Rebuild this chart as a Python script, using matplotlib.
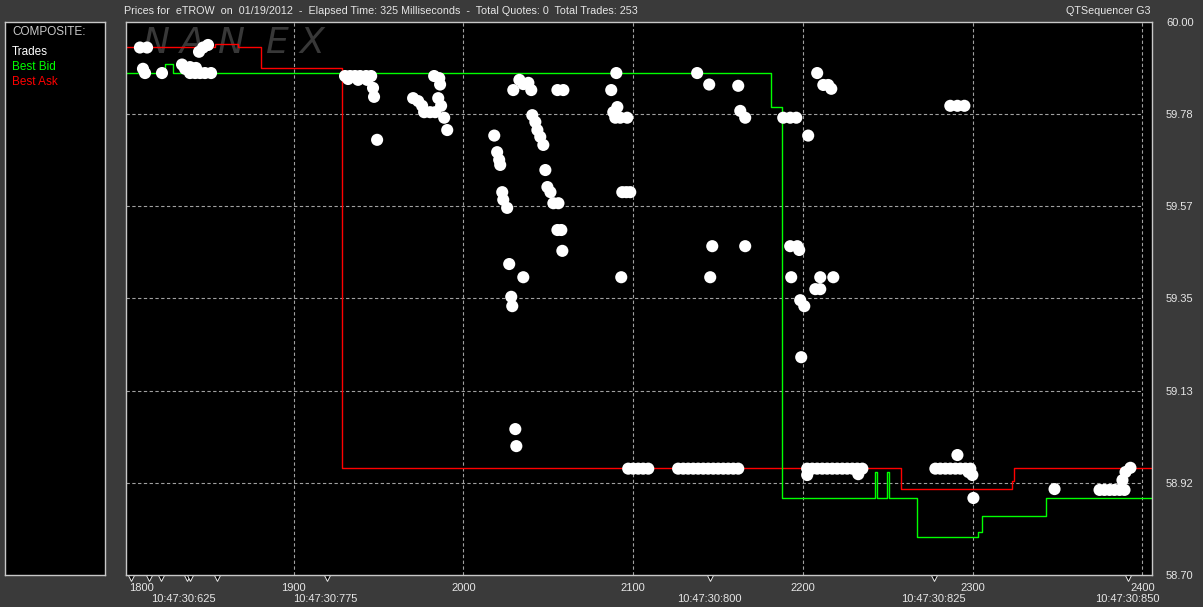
import matplotlib
matplotlib.use("Agg")
import matplotlib.pyplot as plt
import matplotlib.transforms as mtransforms

# ---- data ----
symbol = "eTROW"
trade_date = "01/19/2012"

# trades (sequence number, price)
trade_x = [
    1809.5, 1813.7, 1811.3, 1812.5, 1822.5, 1834.3, 1836.1, 1839.0, 1839.0, 1842.5,
    1842.0, 1844.9, 1847.8, 1851.4, 1844.3, 1846.7, 1849.6,
    1930.3, 1933.3, 1936.2, 1939.2, 1942.7, 1945.7, 1932.1, 1938.0, 1943.3, 1946.8,
    1947.4, 1949.2,
    1970.4, 1973.4, 1975.7, 1976.9, 1980.4, 1983.4, 1982.8, 1985.8, 1986.3, 1985.2,
    1986.9, 1988.7, 1990.5,
    2033.0, 2029.4, 2035.3, 2038.3, 2040.0, 2055.4, 2058.9, 2040.6, 2042.4, 2043.6,
    2045.3, 2047.1, 2018.2, 2019.9, 2021.1, 2021.7, 2048.3, 2022.9, 2023.5, 2025.8,
    2049.5, 2051.3, 2053.0, 2056.0, 2055.4, 2057.7, 2058.3, 2027.0, 2035.3, 2028.2,
    2028.8, 2030.6, 2031.2,
    2090.1, 2087.1, 2090.7, 2088.3, 2089.5, 2092.4, 2096.5, 2093.6, 2096.0, 2098.3,
    2093.0,
    2097.1, 2100.0, 2103.0, 2105.9, 2108.9,
    2126.5, 2129.5, 2132.4, 2135.4, 2138.3, 2141.3, 2144.2, 2147.2, 2150.1, 2153.1,
    2156.0, 2159.0, 2161.9,
    2137.7, 2144.8, 2146.6, 2145.4, 2161.9, 2163.1, 2166.0, 2166.0,
    2188.4, 2192.5, 2196.1, 2203.1, 2208.4, 2212.0, 2214.9, 2216.7, 2192.5, 2196.7,
    2197.8, 2193.1, 2210.2, 2217.9, 2207.3, 2210.2, 2198.4, 2200.8, 2199.0,
    2202.5, 2205.5, 2208.4, 2211.4, 2214.3, 2217.3, 2220.2, 2223.2, 2226.1, 2229.1,
    2232.0, 2235.0, 2202.5, 2232.6,
    2278.0, 2280.9, 2283.9, 2286.8, 2289.8, 2292.7, 2295.7, 2298.6, 2291.0, 2297.5,
    2299.8, 2300.4, 2286.8, 2291.0, 2295.1,
    2348.2, 2374.7, 2377.6, 2380.6, 2383.5, 2386.5, 2389.4, 2388.2, 2390.0, 2392.9,
]
trade_px = [
    59.940, 59.940, 59.890, 59.880, 59.880, 59.900, 59.890, 59.894, 59.880, 59.892,
    59.880, 59.880, 59.880, 59.880, 59.930, 59.940, 59.946,
    59.873, 59.873, 59.873, 59.873, 59.873, 59.873, 59.866, 59.864, 59.864, 59.845,
    59.824, 59.723,
    59.821, 59.814, 59.803, 59.788, 59.788, 59.788, 59.873, 59.868, 59.853, 59.821,
    59.803, 59.775, 59.746,
    59.864, 59.840, 59.854, 59.857, 59.840, 59.840, 59.840, 59.781, 59.765, 59.746,
    59.730, 59.711, 59.733, 59.694, 59.676, 59.664, 59.652, 59.600, 59.582, 59.563,
    59.612, 59.600, 59.574, 59.574, 59.511, 59.511, 59.462, 59.431, 59.400, 59.354,
    59.332, 59.043, 59.003,
    59.880, 59.840, 59.800, 59.788, 59.775, 59.775, 59.775, 59.600, 59.600, 59.600,
    59.400,
    58.950, 58.950, 58.950, 58.950, 58.950,
    58.950, 58.950, 58.950, 58.950, 58.950, 58.950, 58.950, 58.950, 58.950, 58.950,
    58.950, 58.950, 58.950,
    59.880, 59.853, 59.473, 59.400, 59.850, 59.791, 59.775, 59.473,
    59.775, 59.775, 59.775, 59.733, 59.880, 59.852, 59.852, 59.843, 59.473, 59.473,
    59.464, 59.400, 59.400, 59.400, 59.372, 59.372, 59.346, 59.332, 59.212,
    58.950, 58.950, 58.950, 58.950, 58.950, 58.950, 58.950, 58.950, 58.950, 58.950,
    58.950, 58.950, 58.935, 58.937,
    58.950, 58.950, 58.950, 58.950, 58.950, 58.950, 58.950, 58.950, 58.982, 58.942,
    58.935, 58.881, 59.803, 59.803, 59.803,
    58.902, 58.900, 58.900, 58.900, 58.900, 58.900, 58.900, 58.923, 58.942, 58.952,
]

# best ask / best bid (step changes)
ask_x = [1801.3, 1853.7, 1867.3, 1880.8, 1928.6, 2257.6, 2323.0, 2324.2, 2405.6]
ask_px = [59.941, 59.948, 59.941, 59.892, 58.951, 58.902, 58.921, 58.951, 58.951]

bid_x = [1801.3, 1824.3, 1829.0, 2181.0, 2187.4, 2242.7, 2243.6, 2249.5, 2250.7,
         2267.1, 2303.1, 2305.4, 2343.1, 2405.6]
bid_px = [59.880, 59.901, 59.880, 59.800, 58.881, 58.942, 58.881, 58.942, 58.881,
          58.789, 58.801, 58.839, 58.881, 58.881]

# time stamps marked under the axis
mark_x = [1804.2, 1814.8, 1821.9, 1837.2, 1839.0, 1854.9, 1919.7, 2145.4, 2277.0, 2391.5]
time_x = [1835.0, 1918.5, 2145.0, 2277.0, 2391.0]
time_labels = ["10:47:30:625", "10:47:30:775", "10:47:30:800", "10:47:30:825", "10:47:30:850"]

seq_ticks = [1900, 2000, 2100, 2200, 2300, 2400]
price_lo, price_hi = 58.70, 60.00

# ---- styling ----
W, H = 1203, 607
BG = "#3a3a3a"
TXT = "#e6e6e6"
GRID = "#a0a0a0"
FRAME = "#c8c8c8"
FS = 8
plt.rcParams['font.family'] = ['Liberation Sans', 'DejaVu Sans']


def fx(px):
    return px / W


def fy(py):
    return 1 - py / H


fig = plt.figure(figsize=(W / 100, H / 100), dpi=100, facecolor=BG)

# legend panel on the left
lax = fig.add_axes([fx(5), fy(575), fx(105) - fx(5), fy(22) - fy(575)])
lax.set_facecolor("black")
lax.set_xticks([])
lax.set_yticks([])
for s in lax.spines.values():
    s.set_color(FRAME)
    s.set_linewidth(1)
for txt, col, py in [("COMPOSITE:", "#c8c8c8", 32), ("Trades", "white", 52),
                     ("Best Bid", "#00ff00", 67), ("Best Ask", "#ff0000", 82)]:
    fig.text(fx(12), fy(py), txt, color=col, fontsize=8.5, ha="left", va="center")

# main price panel
ax = fig.add_axes([fx(126), fy(575), fx(1152) - fx(126), fy(22) - fy(575)])
ax.set_facecolor("black")
x_lo, x_hi = 1801.3, 2405.6
ax.set_xlim(x_lo, x_hi)
ax.set_ylim(price_lo, price_hi)
for s in ax.spines.values():
    s.set_color(FRAME)
    s.set_linewidth(1)

# watermark
for letter, px in zip("NANEX", [156, 192, 231, 276, 312]):
    ax.text(fx(px), fy(43), letter, transform=fig.transFigure, color="#383838",
            fontsize=26, style="italic", ha="center", va="center", zorder=0,
            family="DejaVu Sans")

# grid
step = (price_hi - price_lo) / 6
yt = [price_lo + i * step for i in range(7)]
ax.hlines(yt[1:-1], x_lo, 2400, colors=GRID, linestyles=(0, (3, 2.2)), lw=0.8, zorder=1)
ax.vlines(seq_ticks, price_lo, price_hi, colors=GRID, linestyles=(0, (3, 2.2)), lw=0.8, zorder=1)

ax.plot(ask_x, ask_px, drawstyle="steps-post", color="#ff0000", lw=1.0, zorder=2)
ax.plot(bid_x, bid_px, drawstyle="steps-post", color="#00ff00", lw=1.0, zorder=2)
ax.scatter(trade_x, trade_px, s=76, color="white", edgecolors="none", zorder=3)

# axes ticks
ax.yaxis.tick_right()
ax.set_yticks(yt)
ax.set_yticklabels(["%.2f" % v for v in yt])
ax.set_xticks(seq_ticks)
ax.set_xticklabels([str(v) for v in seq_ticks])
ax.tick_params(axis="both", length=0, colors=TXT, labelsize=FS)
ax.tick_params(axis="x", pad=6)
ax.tick_params(axis="y", pad=10)
ax.text(0.003, -0.023, "1800", transform=ax.transAxes, color=TXT, fontsize=FS,
        ha="left", va="center")

trans = mtransforms.blended_transform_factory(ax.transData, ax.transAxes)
ax.plot(mark_x, [-0.0055] * len(mark_x), transform=trans, ls="none", marker="v",
        ms=4.5, mfc="black", mec=TXT, mew=0.7, clip_on=False)
for x, lab in zip(time_x, time_labels):
    ax.text(x, -0.0434, lab, transform=trans, color=TXT, fontsize=FS,
            ha="center", va="center")

# header line
fig.text(fx(124), fy(11),
         "Prices for  %s  on  %s  -  Elapsed Time: 325 Milliseconds  -  "
         "Total Quotes: 0  Total Trades: 253" % (symbol, trade_date),
         color=TXT, fontsize=7.75, ha="left", va="center")
fig.text(fx(1151), fy(11), "QTSequencer G3", color=TXT, fontsize=7.75,
         ha="right", va="center")

fig.savefig("out.png", dpi=100, facecolor=BG)
